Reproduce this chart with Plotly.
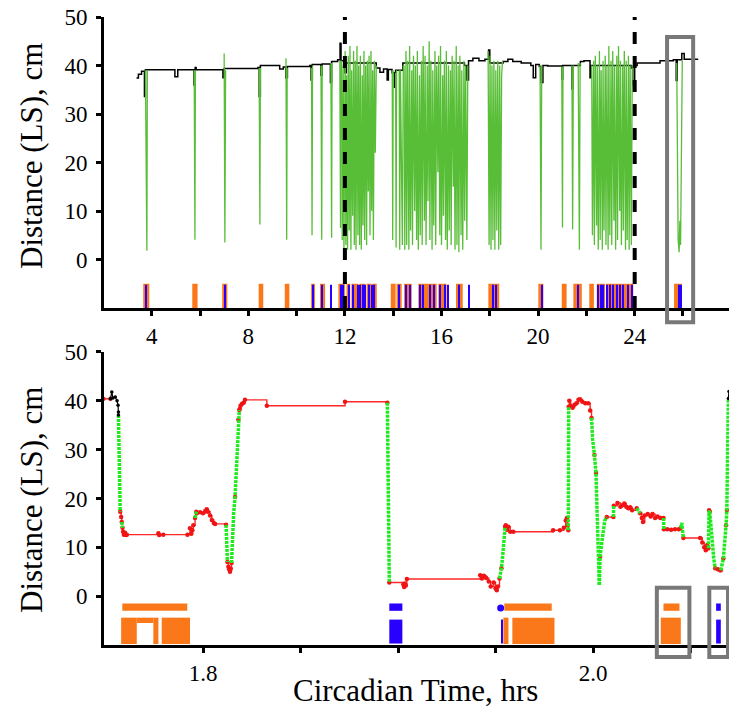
import plotly.graph_objects as go

# ================= TOP PANEL DATA =================
# black baseline (step line, hv)
top_base_x = [3.37, 3.45, 3.58, 3.70, 3.74, 4.96, 5.08, 5.75, 5.80, 5.84, 6.95, 7.00, 8.40, 8.45, 8.50,
              9.30, 9.45, 9.55, 9.62, 10.55, 10.60, 10.65, 11.00, 11.06, 11.40, 11.45, 11.70, 11.80,
              11.84, 12.00, 12.06, 13.30, 13.45, 13.60, 13.75, 13.80, 13.95, 14.05, 14.10, 14.40,
              16.95, 17.05, 17.12, 17.30, 17.55, 17.80, 17.95, 18.00, 18.55, 18.75, 18.95, 19.30,
              19.70, 19.80, 19.90, 20.05, 20.12, 20.20, 20.40, 20.70, 20.98, 21.02, 21.40, 21.45,
              21.75, 21.90, 22.15, 22.20, 23.85, 23.92, 24.00, 24.10, 24.80, 25.05, 25.60, 25.72,
              25.76, 25.95, 26.05, 26.63]
top_base_y = [37.4, 38.2, 38.8, 33.6, 39.1, 37.7, 39.1, 36.0, 39.6, 39.1, 37.5, 39.4, 39.6, 33.6, 40.0,
              39.3, 39.7, 37.5, 39.8, 40.0, 37.0, 40.2, 38.0, 40.3, 36.5, 40.8, 41.2, 44.6,
              41.0, 38.5, 40.5, 39.5, 38.6, 39.3, 37.0, 39.2, 38.5, 35.5, 39.0, 40.5,
              40.0, 37.0, 41.0, 41.5, 41.0, 41.3, 43.2, 40.5, 40.8, 41.3, 40.8, 40.5,
              40.0, 37.5, 40.2, 39.8, 36.5, 40.0, 39.9, 39.9, 37.2, 40.0, 35.2, 40.0,
              40.8, 41.0, 37.5, 40.0, 39.5, 36.0, 40.0, 40.5, 40.5, 41.0, 41.2, 36.9,
              41.2, 42.5, 41.3, 41.3]

# isolated green crossings
iso_x = [3.74, 3.80, 3.82, None, 5.76, 5.79, 5.81, None, 7.00, 7.03, 7.06, None,
         8.45, 8.48, 8.50, None, 9.56, 9.59, 9.61, None, 10.62, 10.64, 10.66, None,
         11.01, 11.04, 11.06, None, 11.42, 11.45, 11.47, None, 11.79, 11.82, 11.85, None,
         13.96, 13.98, 14.00, None, 14.10, 14.12, 14.14, None, 14.25, 14.27, 14.30, 14.38, 14.42, None,
         20.08, 20.12, 20.15, None, 20.98, 21.01, 21.03, None, 21.40, 21.43, 21.46, None,
         21.66, 21.71, 21.74]
iso_y = [39.0, 1.8, 39.0, None, 39.0, 4.1, 39.0, None, 42.5, 3.5, 39.0, None,
         39.5, 7.2, 39.5, None, 41.5, 4.1, 39.5, None, 39.5, 5.0, 40.0, None,
         40.0, 4.1, 40.0, None, 40.5, 4.5, 40.5, None, 41.0, 6.5, 41.0, None,
         39.0, 4.0, 39.0, None, 38.5, 2.5, 39.0, None, 39.0, 2.0, 39.0, 3.0, 40.0, None,
         40.0, 2.0, 40.0, None, 39.8, 6.6, 39.8, None, 40.0, 6.2, 40.0, None,
         40.5, 2.0, 40.5]

# dense bursts
burst1_x = [11.86, 11.89, 11.93, 11.96, 12.01, 12.04, 12.07, 12.11, 12.14, 12.18, 12.21, 12.25, 12.28, 12.32,
            12.36, 12.39, 12.43, 12.46, 12.50, 12.54, 12.57, 12.61, 12.64, 12.68, 12.72, 12.75, 12.79, 12.82,
            12.86, 12.90, 12.93, 12.97, 13.00, 13.04, 13.08, 13.11, 13.15, 13.18, 13.22, 13.26, 13.30]
burst1_y = [41, 4, 40, 2, 43, 3, 38, 2, 42, 6, 44, 2, 39, 9, 43, 3, 41, 2, 44, 5, 40, 3, 42, 2, 38, 7, 43, 4,
            40, 3, 41, 14, 42, 5, 43, 10, 39, 4, 41, 22, 40]
burst2_x = [14.45, 14.48, 14.53, 14.56, 14.60, 14.65, 14.68, 14.72, 14.77, 14.80, 14.84, 14.89, 14.92, 14.97,
            15.00, 15.04, 15.09, 15.12, 15.17, 15.20, 15.24, 15.29, 15.32, 15.36, 15.41, 15.44, 15.49, 15.52,
            15.56, 15.61, 15.64, 15.68, 15.73, 15.76, 15.80, 15.85, 15.88, 15.93, 15.96, 16.00, 16.05, 16.08,
            16.12, 16.17, 16.20, 16.24, 16.29, 16.32, 16.37, 16.40, 16.44, 16.49, 16.52, 16.56, 16.61, 16.64,
            16.69, 16.72, 16.76, 16.81, 16.84, 16.88, 16.93, 16.96, 17.00, 17.05, 17.09]
burst2_y = [40, 2, 43, 3, 41, 2, 44, 6, 39, 3, 42, 10, 40, 4, 43, 2, 38, 5, 41, 3, 44, 8, 42, 3, 40, 12, 45, 4,
            41, 2, 39, 7, 43, 3, 40, 18, 42, 5, 44, 3, 38, 9, 41, 4, 43, 2, 40, 6, 39, 3, 42, 15, 41, 2, 44, 3,
            40, 1.5, 42, 5, 39, 2, 41, 8, 40, 4, 40]
burst3_x = [17.93, 17.97, 18.01, 18.05, 18.09, 18.13, 18.17, 18.21, 18.25, 18.29, 18.33, 18.37, 18.41, 18.45,
            18.49, 18.53]
burst3_y = [43, 3, 42, 2, 40, 4, 41, 2, 39, 6, 41, 2, 40, 3, 38, 41]
burst4_x = [22.22, 22.25, 22.30, 22.33, 22.37, 22.42, 22.45, 22.49, 22.54, 22.57, 22.61, 22.66, 22.69, 22.73,
            22.78, 22.81, 22.85, 22.90, 22.93, 22.97, 23.02, 23.05, 23.09, 23.14, 23.17, 23.21, 23.26, 23.29,
            23.33, 23.38, 23.41, 23.45, 23.50, 23.53, 23.57, 23.62, 23.65, 23.69, 23.74, 23.77, 23.81, 23.86,
            23.90]
burst4_y = [40, 5, 41, 3, 42, 7, 40, 2, 43, 4, 39, 2, 41, 6, 42, 3, 40, 2, 44, 5, 41, 3, 43, 8, 40, 2, 42, 4,
            44, 10, 41, 3, 40, 6, 43, 2, 41, 4, 42, 2, 40, 3, 40]
burst5_x = [25.74, 25.77, 25.80, 25.84, 25.87, 25.90, 25.94, 25.97]
burst5_y = [40.5, 15, 4, 1.5, 8, 3, 20, 41]

# raster (top)
top_orange_start = [3.65, 5.68, 6.92, 8.43, 9.51, 10.60, 10.97, 11.73, 12.07, 12.27, 12.60, 12.90, 13.14,
                    13.90, 14.14, 14.45, 15.04, 15.87, 16.60, 17.94, 20.01, 20.98, 21.46, 22.12, 22.43,
                    22.81, 25.63]
top_orange_end = [3.90, 5.90, 7.13, 8.62, 9.70, 10.76, 11.18, 12.00, 12.22, 12.55, 12.85, 13.10, 13.32,
                  14.10, 14.35, 14.77, 15.80, 16.21, 16.88, 18.39, 20.22, 21.18, 21.81, 22.31, 22.77,
                  23.94, 25.95]
top_blue = [3.76, 7.03, 10.67, 11.06, 11.42, 11.83, 11.93, 12.18, 12.32, 12.56, 12.62, 12.76, 12.83, 13.01,
            13.11, 13.21, 14.24, 14.53, 14.70, 15.11, 15.25, 15.52, 15.69, 15.94, 16.15, 16.28, 16.74, 17.15,
            18.12, 18.26, 20.15, 21.66, 22.49, 22.59, 22.67, 22.84, 22.98, 23.11, 23.25, 23.39, 23.53, 23.73,
            23.87, 25.83, 25.90]
dashed_x = [12, 24]
top_box = [25.34, 26.42]

# ================= BOTTOM PANEL DATA =================
bot_black_x = [1.7525, 1.7532, 1.7538, 1.7550, 1.7559, 1.7564, 1.7566, 1.7566, None,
               2.0694, 2.0697, 2.0700]
bot_black_y = [40.4, 41.8, 40.6, 40.8, 40.0, 39.1, 37.7, 37.1, None,
               40.5, 41.9, 41.0]
bot_red_x = [1.7489, 1.7525, None,
             1.7575, 1.7580, 1.7583, None,
             1.7587, 1.7590, 1.7594, 1.7600, 1.7605, 1.7609, 1.7771, 1.7775, 1.7796, 1.7920, 1.7933, 1.7940,
             1.7945, 1.7950, 1.7959, None,
             1.7965, 1.7968, 1.7985, 1.8000, 1.8012, 1.8019, 1.8025, 1.8036, 1.8045, 1.8055, 1.8062, 1.8118,
             None,
             1.8125, 1.8130, 1.8134, 1.8138, 1.8142, 1.8146, None,
             1.8164, None, 1.8181, None,
             1.8186, 1.8188, 1.8192, 1.8200, 1.8208, 1.8215, 1.8327, 1.8728, 1.8945, None,
             1.8955, 1.9027, 1.9031, 1.9035, 1.9040, 1.9045, 1.9421, 1.9430, 1.9440, 1.9452, 1.9465, 1.9475,
             1.9490, 1.9500, 1.9506, 1.9512, 1.9520, None,
             1.9530, None,
             1.9549, 1.9552, 1.9558, 1.9565, 1.9575, 1.9591, 1.9795, 1.9830, 1.9850, 1.9860, 1.9866, 1.9870,
             1.9873, None,
             1.9875, 1.9878, 1.9885, 1.9895, 1.9905, 1.9915, 1.9925, 1.9933, 1.9945, 1.9960, 1.9975, 1.9985,
             1.9992, None,
             2.0007, None, 2.0015, None, 2.0036, None,
             2.0070, 2.0104, None,
             2.0106, 2.0125, 2.0140, 2.0150, 2.0160, 2.0170, 2.0180, 2.0190, 2.0200, 2.0224, None,
             2.0241, 2.0250, 2.0256, 2.0265, 2.0280, 2.0295, 2.0305, 2.0318, 2.0330, 2.0345, 2.0361, None,
             2.0363, 2.0380, 2.0400, 2.0420, 2.0440, 2.0450, None,
             2.0463, 2.0549, 2.0560, 2.0570, 2.0578, 2.0585, 2.0591, None,
             2.0595, 2.0598, None,
             2.0626, 2.0640, 2.0651, 2.0655, None,
             2.0668, None, 2.0682, None, 2.0686]
bot_red_y = [40.4, 40.4, None,
             17.3, 16.2, 15.2, None,
             14.0, 13.2, 12.6, 13.0, 12.5, 12.6, 12.9, 12.5, 12.6, 12.6, 13.9, 12.8,
             13.5, 14.5, 16.0, None,
             17.3, 17.0, 17.2, 17.0, 17.5, 17.8, 17.3, 16.5, 15.6, 15.0, 14.8, 14.6,
             None,
             7.0, 6.0, 5.5, 5.0, 5.6, 6.8, None,
             20.3, None, 36.1, None,
             38.1, 38.3, 39.0, 39.4, 39.6, 40.2, 39.0, 39.8, 39.6, None,
             2.8, 2.4, 1.9, 2.6, 2.2, 3.5, 4.3, 3.6, 4.2, 3.7, 3.0, 2.0,
             2.8, 1.6, 1.2, 2.0, 3.6, None,
             5.7, None,
             14.2, 14.5, 13.6, 14.2, 13.2, 13.2, 13.5, 13.5, 14.0, 15.5, 16.0, 14.5,
             13.5, None,
             38.8, 40.0, 39.0, 38.6, 39.2, 39.5, 40.2, 40.3, 39.8, 39.5, 39.5, 38.0,
             36.5, None,
             28.9, None, 25.2, None, 8.1, None,
             16.2, 16.2, None,
             18.5, 19.1, 18.3, 18.6, 19.0, 18.3, 18.0, 18.2, 17.6, 18.0, None,
             17.0, 16.0, 15.2, 16.5, 16.8, 16.3, 16.8, 16.0, 16.3, 16.0, 16.0, None,
             13.7, 13.7, 13.6, 13.7, 13.7, 14.0, None,
             11.9, 11.9, 11.0, 10.0, 9.4, 10.5, 9.8, None,
             17.6, 17.3, None,
             5.7, 5.5, 5.3, 5.3, None,
             7.7, None, 14.5, None, 17.6]
bot_green_x = [1.7566, 1.7568, 1.7570, 1.7573, 1.7575, None,
               1.7583, 1.7587, None,
               1.7959, 1.7965, None,
               1.8118, 1.8120, 1.8122, 1.8125, None,
               1.8146, 1.8150, 1.8157, 1.8164, 1.8172, 1.8178, 1.8181, 1.8186, None,
               1.8945, 1.8947, 1.8950, 1.8952, 1.8955, None,
               1.9520, 1.9530, 1.9537, 1.9544, 1.9549, None,
               1.9873, 1.9873, 1.9874, 1.9875, None,
               1.9992, 1.9998, 2.0007, 2.0015, 2.0020, 2.0026, 2.0032, None,
               2.0032, 2.0036, 2.0048, 2.0060, 2.0070, None,
               2.0104, 2.0106, None,
               2.0224, 2.0241, None,
               2.0361, 2.0363, None,
               2.0450, 2.0455, 2.0460, 2.0463, None,
               2.0591, 2.0593, 2.0595, None,
               2.0598, 2.0605, 2.0612, 2.0618, 2.0626, None,
               2.0655, 2.0668, 2.0682, 2.0686, 2.0690, 2.0694]
bot_green_y = [37.1, 30.0, 24.0, 19.0, 17.3, None,
               15.2, 14.0, None,
               16.0, 17.3, None,
               14.6, 11.0, 8.5, 7.0, None,
               6.8, 11.0, 17.0, 20.3, 28.0, 33.0, 36.1, 38.1, None,
               39.6, 30.0, 20.0, 10.0, 2.8, None,
               3.6, 5.7, 8.5, 11.1, 14.2, None,
               13.5, 25.0, 35.0, 38.8, None,
               36.5, 32.0, 28.9, 25.2, 18.0, 10.0, 2.3, None,
               2.3, 8.1, 12.0, 15.5, 16.2, None,
               16.2, 18.5, None,
               18.0, 17.0, None,
               16.0, 13.7, None,
               14.0, 15.0, 13.0, 11.9, None,
               9.8, 14.0, 17.6, None,
               17.3, 13.0, 11.0, 8.0, 5.7, None,
               5.3, 7.7, 14.5, 17.6, 30.0, 40.5]

# raster (bottom)
bot_orange_upper_start = [1.7586, 1.9545, 2.0361]
bot_orange_upper_end = [1.7919, 1.9788, 2.0443]
bot_orange_lower_start = [1.7580, 1.7745, 1.7788, 1.9540, 1.9586, 2.0347]
bot_orange_lower_end = [1.7660, 1.7771, 1.7933, 1.9566, 1.9802, 2.0450]
bot_orange_short_start = [1.7660]
bot_orange_short_end = [1.7745]
bot_blue_upper_start = [1.8955, 2.0631]
bot_blue_upper_end = [1.9022, 2.0655]
bot_blue_lower_start = [1.8955, 1.9528, 2.0631]
bot_blue_lower_end = [1.9022, 1.9534, 2.0655]
bot_blue_dot = [1.9526]
bot_boxes = [[2.0327, 2.0494], [2.0596, 2.0692]]

ORANGE = "rgb(250,120,25)"
BLUE = "rgb(40,0,255)"
FONT = "Liberation Serif, Times New Roman, serif"


def join(*parts):
    xs, ys = [], []
    for px, py in parts:
        if xs:
            xs.append(None)
            ys.append(None)
        xs.extend(px)
        ys.extend(py)
    return xs, ys


def bars(starts, ends, base, top, color, xa, ya):
    return go.Bar(x=[(a + b) / 2 for a, b in zip(starts, ends)],
                  width=[b - a for a, b in zip(starts, ends)],
                  y=[top - base] * len(starts), base=[base] * len(starts),
                  marker=dict(color=color, line=dict(width=0)),
                  xaxis=xa, yaxis=ya, showlegend=False, hoverinfo="skip")


fig = go.Figure()

# ----- top panel -----
fig.add_trace(bars(top_orange_start, top_orange_end, -10, -5, ORANGE, "x", "y"))
fig.add_trace(bars([b - 0.022 for b in top_blue], [b + 0.022 for b in top_blue], -10, -5.2, BLUE, "x", "y"))
fig.add_trace(go.Scatter(x=top_base_x, y=top_base_y, mode="lines", line=dict(color="black", width=1.5, shape="hv"),
                         xaxis="x", yaxis="y", showlegend=False))
gx, gy = join((iso_x, iso_y), (burst1_x, burst1_y), (burst2_x, burst2_y), (burst3_x, burst3_y),
              (burst4_x, burst4_y), (burst5_x, burst5_y))
fig.add_trace(go.Scatter(x=gx, y=gy, mode="lines", line=dict(color="rgb(88,190,55)", width=1.3),
                         xaxis="x", yaxis="y", showlegend=False))

# ----- bottom panel -----
fig.add_trace(bars(bot_orange_upper_start, bot_orange_upper_end, -3.0, -1.5, ORANGE, "x2", "y2"))
fig.add_trace(bars(bot_orange_lower_start, bot_orange_lower_end, -9.8, -4.4, ORANGE, "x2", "y2"))
fig.add_trace(bars(bot_orange_short_start, bot_orange_short_end, -5.5, -4.4, ORANGE, "x2", "y2"))
fig.add_trace(bars(bot_blue_upper_start, bot_blue_upper_end, -3.0, -1.5, BLUE, "x2", "y2"))
fig.add_trace(bars(bot_blue_lower_start, bot_blue_lower_end, -9.7, -4.8, BLUE, "x2", "y2"))
fig.add_trace(go.Scatter(x=bot_blue_dot, y=[-2.4], mode="markers", marker=dict(color=BLUE, size=7),
                         xaxis="x2", yaxis="y2", showlegend=False))
fig.add_trace(go.Scatter(x=bot_red_x, y=bot_red_y, mode="lines+markers",
                         line=dict(color="rgb(255,40,40)", width=1.4, shape="hv"),
                         marker=dict(color="rgb(240,20,20)", size=4.5),
                         xaxis="x2", yaxis="y2", showlegend=False))
fig.add_trace(go.Scatter(x=bot_green_x, y=bot_green_y, mode="lines",
                         line=dict(color="rgb(30,235,30)", width=3.5, dash="3px,1px"),
                         xaxis="x2", yaxis="y2", showlegend=False))
fig.add_trace(go.Scatter(x=bot_black_x, y=bot_black_y, mode="lines+markers",
                         line=dict(color="black", width=1.2), marker=dict(color="black", size=3.5),
                         xaxis="x2", yaxis="y2", showlegend=False))

shapes = []
for xv in dashed_x:
    shapes.append(dict(type="line", xref="x", yref="y", x0=xv, x1=xv, y0=-10, y1=50,
                       line=dict(color="black", width=4, dash="12px,12px"), layer="above"))
shapes.append(dict(type="rect", xref="x", yref="paper", x0=top_box[0], x1=top_box[1], y0=0.514, y1=0.968,
                   line=dict(color="rgb(120,120,120)", width=4), layer="above"))
for b in bot_boxes:
    shapes.append(dict(type="rect", xref="x2", yref="paper", x0=b[0], x1=b[1], y0=-0.019, y1=0.091,
                       line=dict(color="rgb(120,120,120)", width=4), layer="above"))

axis_common = dict(showline=True, linecolor="black", linewidth=3, ticks="outside", ticklen=5, tickwidth=3,
                   tickcolor="black", showgrid=False, zeroline=False, automargin=False,
                   tickfont=dict(family=FONT, size=23, color="black"))

fig.update_layout(
    width=729, height=712, margin=dict(l=104, r=0, t=17, b=67, autoexpand=False),
    font=dict(family=FONT, size=23, color="black"),
    paper_bgcolor="white", plot_bgcolor="white", barmode="overlay", showlegend=False,
    xaxis=dict(axis_common, range=[2.025, 27.905], anchor="y",
               tickvals=[4, 6, 8, 10, 12, 14, 16, 18, 20, 22, 24, 26],
               ticktext=["4", "", "8", "", "12", "", "16", "", "20", "", "24", ""]),
    yaxis=dict(axis_common, range=[-10, 50], domain=[0.5366, 1], anchor="x",
               tickvals=[0, 10, 20, 30, 40, 50], ticklabelstandoff=4),
    xaxis2=dict(axis_common, range=[1.7492, 2.0697], anchor="y2",
                tickvals=[1.80, 1.85, 1.90, 1.95, 2.00, 2.05],
                ticktext=["1.8", "", "", "", "2.0", ""]),
    yaxis2=dict(axis_common, range=[-10, 50], domain=[0, 0.4666], anchor="x2",
                tickvals=[0, 10, 20, 30, 40, 50], ticklabelstandoff=4),
    shapes=shapes,
    annotations=[
        dict(text="Distance (LS), cm", xref="paper", yref="paper", x=-0.1152, y=0.7787, textangle=-90,
             showarrow=False, font=dict(family=FONT, size=31, color="black"), xanchor="center", yanchor="middle"),
        dict(text="Distance (LS), cm", xref="paper", yref="paper", x=-0.1152, y=0.2309, textangle=-90,
             showarrow=False, font=dict(family=FONT, size=31, color="black"), xanchor="center", yanchor="middle"),
        dict(text="Circadian Time, hrs", xref="paper", yref="paper", x=0.4976, y=-0.0717,
             showarrow=False, font=dict(family=FONT, size=31, color="black"), xanchor="center", yanchor="middle"),
    ],
)

fig.write_html("out.html", config={"displayModeBar": False},
               post_script="document.body.style.margin='0px';document.body.style.overflow='hidden';")
